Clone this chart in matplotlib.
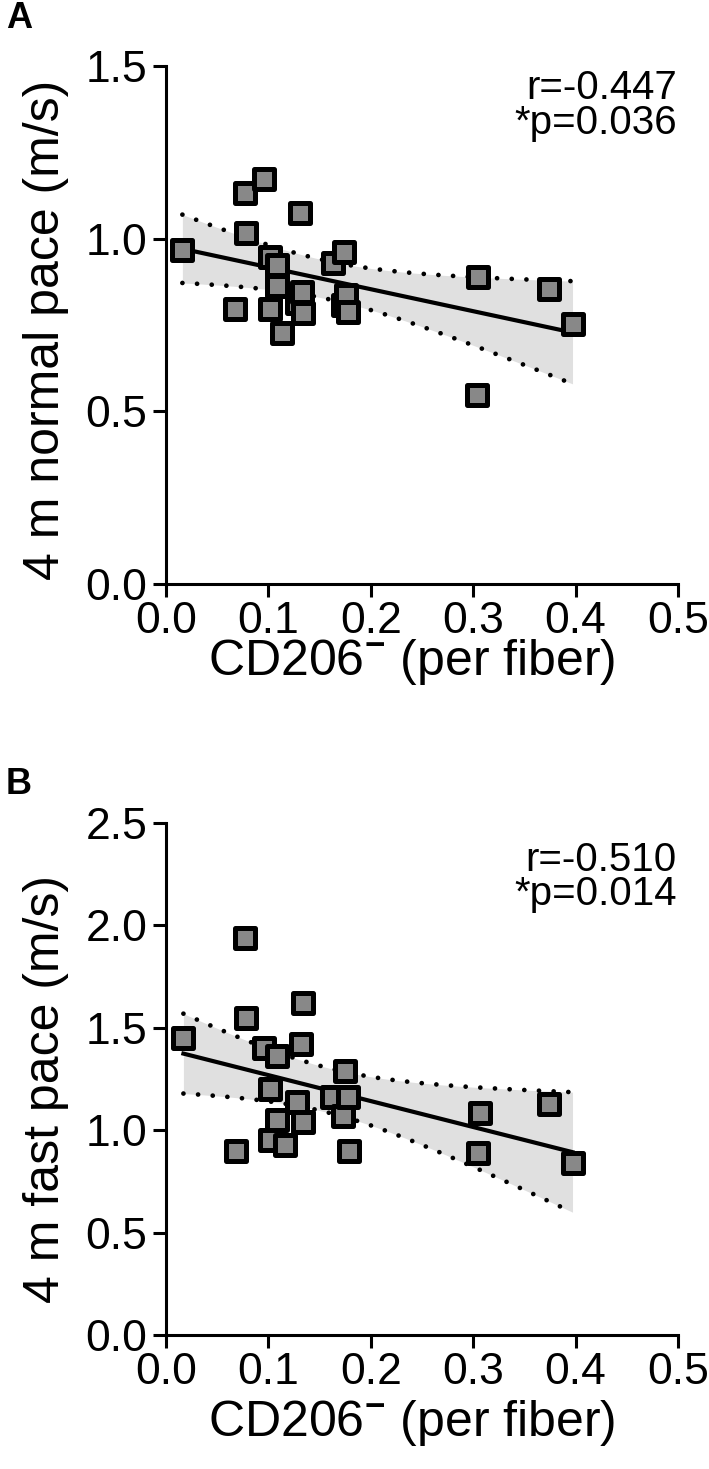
import numpy as np
import matplotlib
matplotlib.use("Agg")
import matplotlib.pyplot as plt

plt.rcParams['font.family'] = ['Liberation Sans', 'DejaVu Sans']
plt.rcParams['mathtext.fontset'] = 'custom'
plt.rcParams['mathtext.rm'] = 'Liberation Sans'
plt.rcParams['mathtext.bf'] = 'Liberation Sans:bold'

# === données ===

# panneau A : vitesse de marche normale
cd206_a = [0.016, 0.067, 0.077, 0.078, 0.096, 0.102, 0.102, 0.108, 0.108, 0.113,
           0.128, 0.131, 0.133, 0.134, 0.163, 0.173, 0.174, 0.176, 0.178,
           0.304, 0.305, 0.374, 0.397]
normal_pace = [0.968, 0.797, 1.133, 1.017, 1.174, 0.948, 0.797, 0.925, 0.864, 0.728,
               0.814, 1.075, 0.846, 0.786, 0.930, 0.809, 0.962, 0.838, 0.788,
               0.548, 0.890, 0.855, 0.754]

# panneau B : vitesse de marche rapide
cd206_b = [0.017, 0.068, 0.077, 0.078, 0.096, 0.102, 0.102, 0.108, 0.108, 0.116,
           0.128, 0.132, 0.134, 0.134, 0.162, 0.173, 0.175, 0.178, 0.179,
           0.305, 0.307, 0.374, 0.397]
fast_pace = [1.45, 0.90, 1.94, 1.55, 1.40, 1.20, 0.95, 1.36, 1.05, 0.93,
             1.14, 1.42, 1.62, 1.04, 1.16, 1.07, 1.29, 1.16, 0.90,
             0.89, 1.085, 1.13, 0.84]

xticks = [0.0, 0.1, 0.2, 0.3, 0.4, 0.5]
yticks_a = [0.0, 0.5, 1.0, 1.5]
yticks_b = [0.0, 0.5, 1.0, 1.5, 2.0, 2.5]

stats_a = ["r=-0.447", "*p=0.036"]
stats_b = ["r=-0.510", "*p=0.014"]

xlabel = "CD206$^{\\mathbf{-}}$ (per fiber)"
ylabel_a = "4 m normal pace (m/s)"
ylabel_b = "4 m fast pace (m/s)"

T_CRIT = 2.08  # t 95 %, ddl = 21


def regression(x, y):
    x = np.asarray(x)
    y = np.asarray(y)
    n = len(x)
    slope, intercept = np.polyfit(x, y, 1)
    xs = np.linspace(x.min(), x.max(), 100)
    yhat = intercept + slope * xs
    resid = y - (intercept + slope * x)
    s = np.sqrt(np.sum(resid ** 2) / (n - 2))
    sxx = np.sum((x - x.mean()) ** 2)
    se = s * np.sqrt(1 / n + (xs - x.mean()) ** 2 / sxx)
    return xs, yhat, yhat - T_CRIT * se, yhat + T_CRIT * se


def panneau(ax, x, y, yticks, ylabel, stats, ylab_y, xlab_y, stat_y):
    xs, yhat, lo, hi = regression(x, y)
    ax.fill_between(xs, lo, hi, color='#e0e0e0', lw=0, zorder=1)
    for b in (lo, hi):
        ax.plot(xs, b, color='k', lw=3.4, linestyle=(0, (0.01, 3.1)),
                dash_capstyle='round', zorder=2)
    ax.plot(xs, yhat, color='k', lw=3, zorder=2)
    ax.scatter(x, y, marker='s', s=215, facecolor='#888888', edgecolor='k',
               linewidths=3.6, zorder=3)

    ax.set_xlim(0, 0.5)
    ax.set_ylim(yticks[0], yticks[-1])
    ax.set_xticks(xticks)
    ax.set_yticks(yticks)
    ax.set_xticklabels([f"{v:.1f}" for v in xticks])
    ax.set_yticklabels([f"{v:.1f}" for v in yticks])
    ax.tick_params(direction='out', length=9.4, width=2.2, labelsize=32)
    ax.tick_params(axis='x', pad=3)
    ax.tick_params(axis='y', pad=4)
    for side in ('top', 'right'):
        ax.spines[side].set_visible(False)
    for side in ('left', 'bottom'):
        ax.spines[side].set_linewidth(2.2)

    ax.set_xlabel(xlabel, fontsize=36)
    ax.set_ylabel(ylabel, fontsize=36)
    ax.xaxis.set_label_coords(0.48, xlab_y)
    ax.yaxis.set_label_coords(-0.19, ylab_y)

    ax.text(0.998, stat_y[0], stats[0], transform=ax.transAxes, ha='right',
            va='center', fontsize=29)
    ax.text(0.998, stat_y[1], stats[1], transform=ax.transAxes, ha='right',
            va='center', fontsize=29)


W, H = 709, 1469
fig = plt.figure(figsize=(W / 100, H / 100), dpi=100)
ax_a = fig.add_axes([166 / W, 1 - 584 / H, 512 / W, 518 / H])
ax_b = fig.add_axes([166 / W, 1 - 1335 / H, 512 / W, 512 / H])

panneau(ax_a, cd206_a, normal_pace, yticks_a, ylabel_a, stats_a, 0.49, -0.102,
        (0.957, 0.890))
panneau(ax_b, cd206_b, fast_pace, yticks_b, ylabel_b, stats_b, 0.48, -0.124,
        (0.928, 0.861))

fig.text(6 / W, 1 - 1 / H, "A", fontsize=26, fontweight='bold', va='top')
fig.text(6 / W, 1 - 767 / H, "B", fontsize=26, fontweight='bold', va='top')

fig.savefig("out.png", dpi=100)
